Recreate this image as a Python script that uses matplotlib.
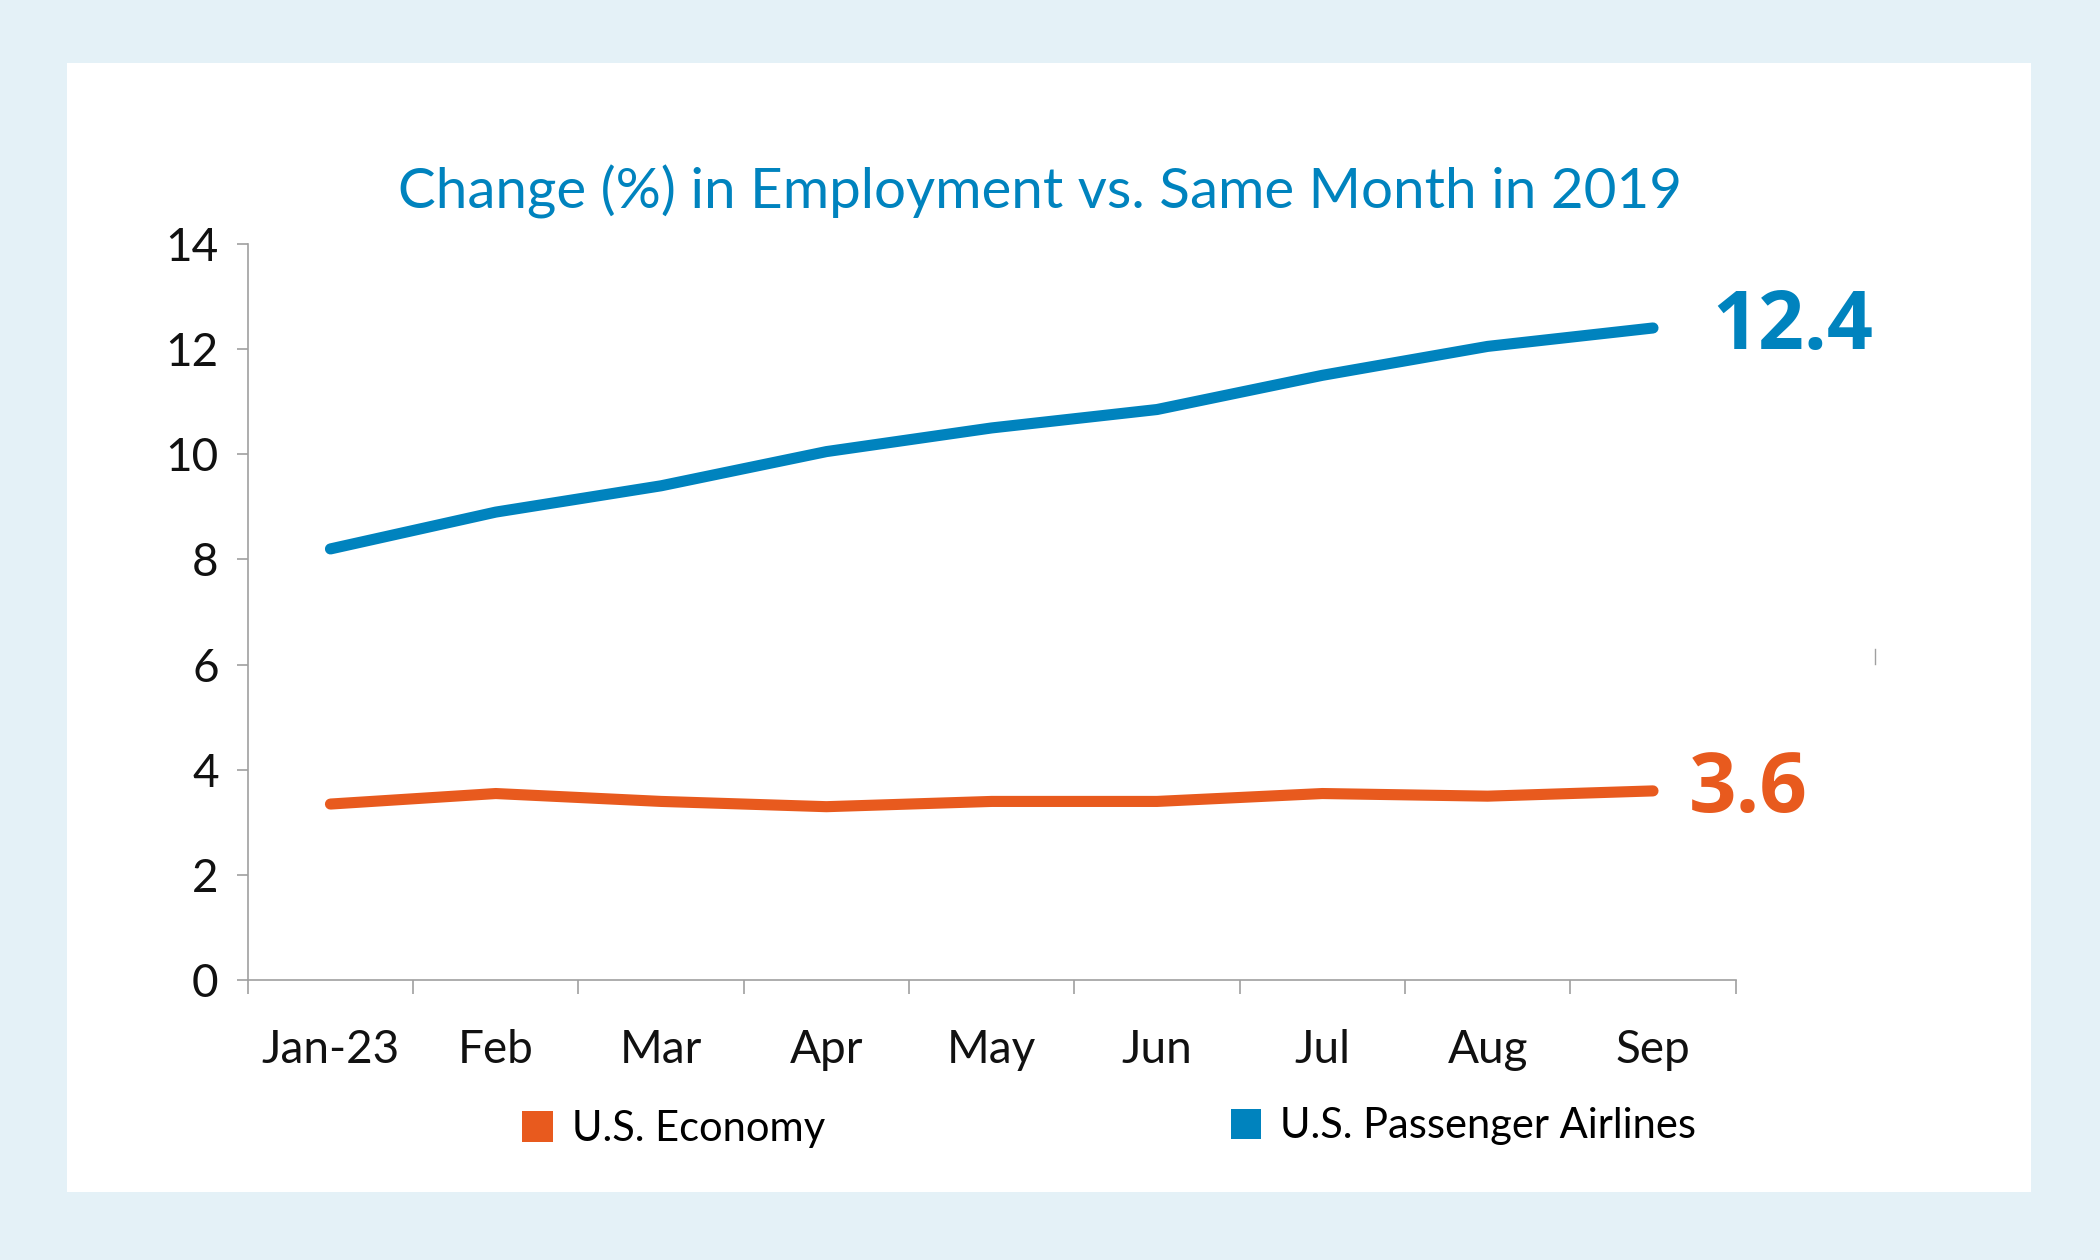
import matplotlib.pyplot as plt
from matplotlib.patches import Rectangle, Patch
from matplotlib.lines import Line2D

# 数据
months = ['Jan-23', 'Feb', 'Mar', 'Apr', 'May', 'Jun', 'Jul', 'Aug', 'Sep']
economy = [3.35, 3.55, 3.4, 3.3, 3.4, 3.4, 3.55, 3.5, 3.6]
airlines = [8.2, 8.9, 9.4, 10.05, 10.5, 10.85, 11.5, 12.05, 12.4]
economy_label = '3.6'
airlines_label = '12.4'

blue = '#0083BE'
orange = '#E85A1E'
title = 'Change (%) in Employment vs. Same Month in 2019'

plt.rcParams['font.family'] = ['Lato', 'DejaVu Sans']

fig = plt.figure(figsize=(21, 12.6), dpi=100)
fig.patch.set_facecolor('#E4F1F7')
fig.add_artist(Rectangle((0.032, 0.054), 0.935, 0.896, transform=fig.transFigure,
                         facecolor='white', edgecolor='none', zorder=0))

ax = fig.add_axes([0.118, 0.222, 0.7085, 0.5845])
ax.set_facecolor('none')
x = list(range(len(months)))
ax.plot(x, airlines, color=blue, lw=8, solid_capstyle='round', solid_joinstyle='round')
ax.plot(x, economy, color=orange, lw=8, solid_capstyle='round', solid_joinstyle='round')

ax.set_xlim(-0.5, len(months) - 0.5)
ax.set_ylim(0, 14)
ax.set_yticks(range(0, 15, 2))
ax.set_xticks(x)
ax.set_xticklabels(months)
ax.set_xticks([i - 0.5 for i in range(len(months) + 1)], minor=True)
ax.tick_params(axis='x', which='major', length=0, labelsize=33, pad=35, colors='#111111')
ax.tick_params(axis='x', which='minor', length=10, width=1.2, color='#A0A0A0')
ax.tick_params(axis='y', length=8, width=1.2, color='#A0A0A0', labelsize=33, pad=13,
               labelcolor='#111111')
for s in ['top', 'right']:
    ax.spines[s].set_visible(False)
for s in ['left', 'bottom']:
    ax.spines[s].set_color('#A0A0A0')
    ax.spines[s].set_linewidth(1.2)

# 末端数值标签
ax.annotate(airlines_label, (x[-1], airlines[-1]), xytext=(43, 0), textcoords='offset points',
            va='center', ha='left', color=blue, fontsize=58, fontweight='bold',
            family=['Open Sans', 'DejaVu Sans'])
ax.annotate(economy_label, (x[-1], economy[-1]), xytext=(26, 0), textcoords='offset points',
            va='center', ha='left', color=orange, fontsize=60, fontweight='bold',
            family=['Open Sans', 'DejaVu Sans'])

fig.text(0.495, 0.848, title, ha='center', va='center', color=blue, fontsize=40.7)

# 图例
fig.legend(handles=[Patch(facecolor=orange, edgecolor='none', label='U.S. Economy')],
           loc='center left', bbox_to_anchor=(0.2486, 0.104), frameon=False, fontsize=30,
           handlelength=0.74, handleheight=0.74, handletextpad=0.45, borderpad=0, borderaxespad=0)
fig.legend(handles=[Patch(facecolor=blue, edgecolor='none', label='U.S. Passenger Airlines')],
           loc='center left', bbox_to_anchor=(0.586, 0.106), frameon=False, fontsize=30,
           handlelength=0.74, handleheight=0.74, handletextpad=0.45, borderpad=0, borderaxespad=0)

fig.add_artist(Line2D([0.893, 0.893], [0.473, 0.485], transform=fig.transFigure,
                      color='#A0A0A0', lw=1))

plt.savefig('out.png', dpi=100, facecolor=fig.get_facecolor())
